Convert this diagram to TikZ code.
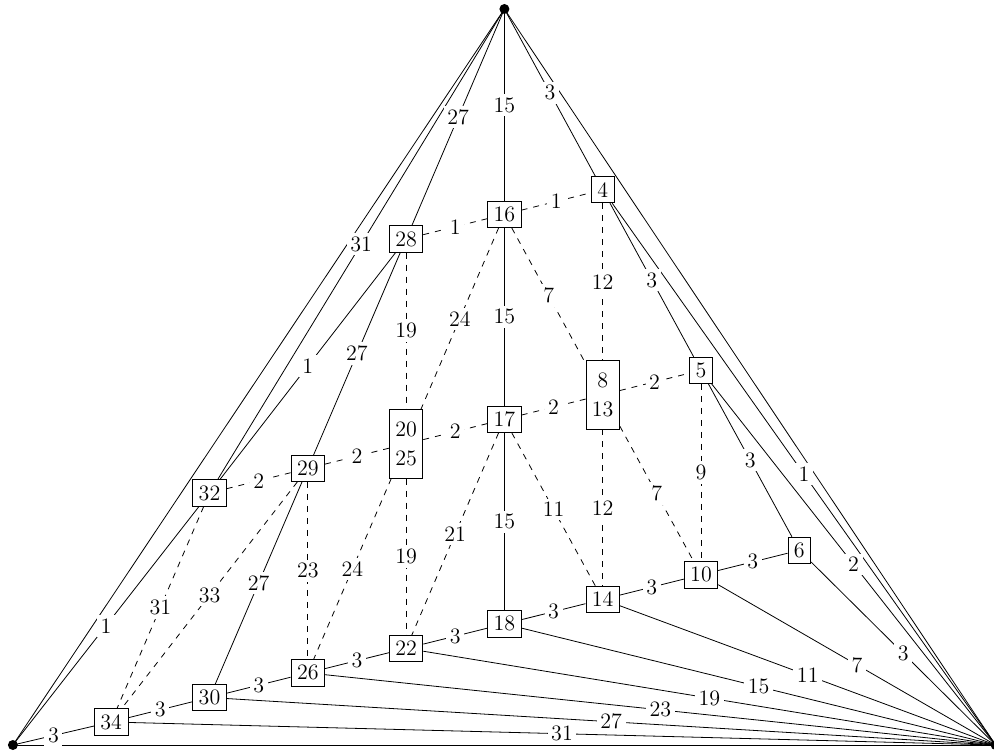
\documentclass[tikz,border=0pt]{standalone}
\begin{document}
\begin{tikzpicture}[x=0.5pt,y=-0.5pt,
  every node/.style={font=\fontsize{11}{14.5}\selectfont},
  box/.style={draw, rectangle, fill=white, inner xsep=3pt, inner ysep=2.8pt},
  tallbox/.style={box, align=center, minimum height=34.25pt},
  lbl/.style={fill=white, inner sep=1.8pt},
  dotpt/.style={fill=black}]
\useasboundingbox (0,0) rectangle (994,753);
% corners
\coordinate (T) at (504.4,9);
\coordinate (L) at (12.9,745);
\coordinate (R) at (995.6,745);
% top row
\node[box] (n28) at (406.1,239.0) {28};
\node[box] (n16) at (504.4,214.4) {16};
\node[box] (n4)  at (602.7,189.8) {4};
% middle row
\node[box] (n32) at (209.5,493.0) {32};
\node[box] (n29) at (307.8,468.4) {29};
\node[tallbox] (nA) at (406.1,443.9) {20\\25};
\node[box] (n17) at (504.4,419.3) {17};
\node[tallbox] (nB) at (602.7,394.8) {8\\13};
\node[box] (n5)  at (701.0,370.3) {5};
% bottom row
\node[box] (n34) at (111.2,722.0) {34};
\node[box] (n30) at (209.5,697.5) {30};
\node[box] (n26) at (307.8,672.9) {26};
\node[box] (n22) at (406.1,648.4) {22};
\node[box] (n18) at (504.4,623.9) {18};
\node[box] (n14) at (602.7,599.4) {14};
\node[box] (n10) at (701.0,574.8) {10};
\node[box] (n6)  at (799.3,550.3) {6};
% edge lists
\def\solidlist{T/n16/15, n16/n17/15, n17/n18/15,
  T/n4/3, n4/n5/3, n5/n6/3, n6/R/3,
  T/n28/27, n28/n29/27, n29/n30/27,
  T/n32/31, n28/n32/1, n32/L/1, n4/R/1, n5/R/2,
  L/n34/3, n34/n30/3, n30/n26/3, n26/n22/3, n22/n18/3, n18/n14/3, n14/n10/3, n10/n6/3,
  n10/R/7, n14/R/11, n18/R/15, n22/R/19, n26/R/23, n30/R/27, n34/R/31}
\def\dashlist{n28/n16/1, n16/n4/1,
  n32/n29/2, n29/nA/2, nA/n17/2, n17/nB/2, nB/n5/2,
  n28/nA/19, n16/nA/24, n16/nB/7, n4/nB/12,
  nA/n22/19, nA/n26/24, n29/n26/23, n17/n22/21, n17/n14/11, nB/n14/12, nB/n10/7, n5/n10/9,
  n29/n34/33, n32/n34/31}
% lines
\draw (T) -- (L);
\draw (T) -- (R);
\draw (L) -- (R);
\foreach \a/\b/\l in \solidlist {\draw (\a) -- (\b);}
\foreach \a/\b/\l in \dashlist {\draw[dashed] (\a) -- (\b);}
% labels
\foreach \a/\b/\l in \solidlist {\path (\a) -- node[lbl] {\l} (\b);}
\foreach \a/\b/\l in \dashlist {\path (\a) -- node[lbl] {\l} (\b);}
% corner dots
\fill[dotpt] (T) circle (2.5pt);
\fill[dotpt] (L) circle (2.5pt);
\fill[dotpt] (R) circle (2.5pt);
\end{tikzpicture}
\end{document}
